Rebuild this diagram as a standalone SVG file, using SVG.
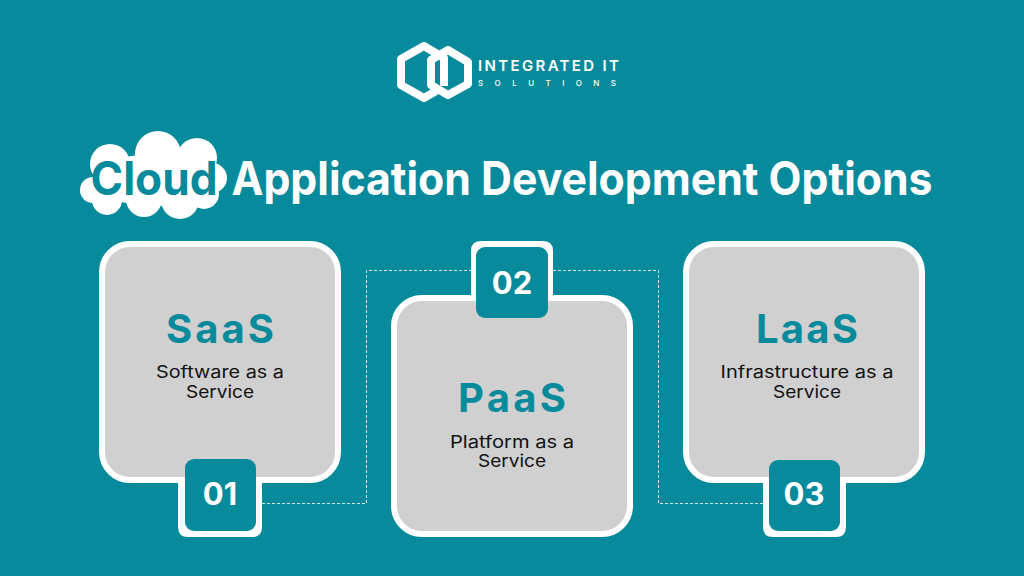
<svg xmlns="http://www.w3.org/2000/svg" width="1024" height="576" viewBox="0 0 1024 576">
<style>
text{font-family:Inter,"Liberation Sans",sans-serif;text-anchor:middle}
.card{fill:#d0d0d0;stroke:#fff;stroke-width:6}
.badge{fill:#078a9b}
.edge{fill:#fff}
.name{font-size:40px;font-weight:700;fill:#078a9b}
.desc{font-size:17px;fill:#111}
.num{font-size:31px;font-weight:700;fill:#fff}
.conn{fill:none;stroke:#d8eef1;stroke-width:1;stroke-dasharray:3 2}
.logo{fill:none;stroke:#fff;stroke-width:8;stroke-linejoin:round}
</style>
<rect width="1024" height="576" fill="#078a9b"/>
<g id="connectors">
<path class="conn" d="M262 503.500H366.500V270.500H471"/>
<path class="conn" d="M553 270.500H658.500V503.500H764"/>
</g>
<g id="logo">
<path class="logo" d="M448 50L468 62V84L448 95L431 85V60Z"/>
<path class="logo" d="M436 91L424 98L401 85V59L424 46L444 58V86"/>
<text x="548.500" y="71" font-size="15" font-weight="600" fill="#fff" textLength="141" lengthAdjust="spacing">INTEGRATED IT</text>
<text x="547" y="86" font-size="8" font-weight="500" fill="#fff" textLength="138" lengthAdjust="spacing">SOLUTIONS</text>
</g>
<g id="title">
<g fill="#fff">
<circle cx="158" cy="154" r="23"/>
<circle cx="110" cy="164" r="20"/>
<circle cx="197" cy="158" r="20"/>
<circle cx="212" cy="178" r="15"/>
<circle cx="93" cy="190" r="13"/>
<circle cx="107" cy="200" r="15"/>
<circle cx="144" cy="199" r="18"/>
<circle cx="180" cy="200" r="19"/>
<circle cx="204" cy="194" r="15"/>
<ellipse cx="155" cy="180" rx="62" ry="26"/>
</g>
<text x="154" y="195" font-size="46" font-weight="700" fill="#078a9b" textLength="127" lengthAdjust="spacingAndGlyphs">Cloud</text>
<text x="582" y="195" font-size="46" font-weight="700" fill="#fff" textLength="701" lengthAdjust="spacingAndGlyphs">Application Development Options</text>
</g>
<g id="node-saas">
<rect class="card" x="102" y="244" width="236" height="236" rx="28"/>
<text class="name" x="220" y="343" textLength="108" lengthAdjust="spacing">SaaS</text>
<text class="desc" x="220" y="378" textLength="128" lengthAdjust="spacingAndGlyphs">Software as a</text>
<text class="desc" x="220" y="398" textLength="68" lengthAdjust="spacingAndGlyphs">Service</text>
<path class="edge" d="M178 477H262V527Q262 537 252 537H188Q178 537 178 527Z"/>
<rect class="badge" x="185" y="459" width="71" height="72" rx="9"/>
<text class="num" x="220" y="505">01</text>
</g>
<g id="node-paas">
<rect class="card" x="394" y="298" width="236" height="236" rx="28"/>
<text class="name" x="512" y="412" textLength="108" lengthAdjust="spacing">PaaS</text>
<text class="desc" x="512" y="448" textLength="124" lengthAdjust="spacingAndGlyphs">Platform as a</text>
<text class="desc" x="512" y="467" textLength="68" lengthAdjust="spacingAndGlyphs">Service</text>
<path class="edge" d="M471 300V251Q471 241 481 241H543Q553 241 553 251V300Z"/>
<rect class="badge" x="476" y="247" width="72" height="71" rx="9"/>
<text class="num" x="512" y="294">02</text>
</g>
<g id="node-laas">
<rect class="card" x="686" y="244" width="236" height="236" rx="28"/>
<text class="name" x="807" y="343" textLength="102" lengthAdjust="spacing">LaaS</text>
<text class="desc" x="807" y="378" textLength="173" lengthAdjust="spacingAndGlyphs">Infrastructure as a</text>
<text class="desc" x="807" y="398" textLength="68" lengthAdjust="spacingAndGlyphs">Service</text>
<path class="edge" d="M763 477H846V527Q846 537 836 537H773Q763 537 763 527Z"/>
<rect class="badge" x="769" y="460" width="71" height="71" rx="9"/>
<text class="num" x="804" y="505">03</text>
</g>
</svg>
